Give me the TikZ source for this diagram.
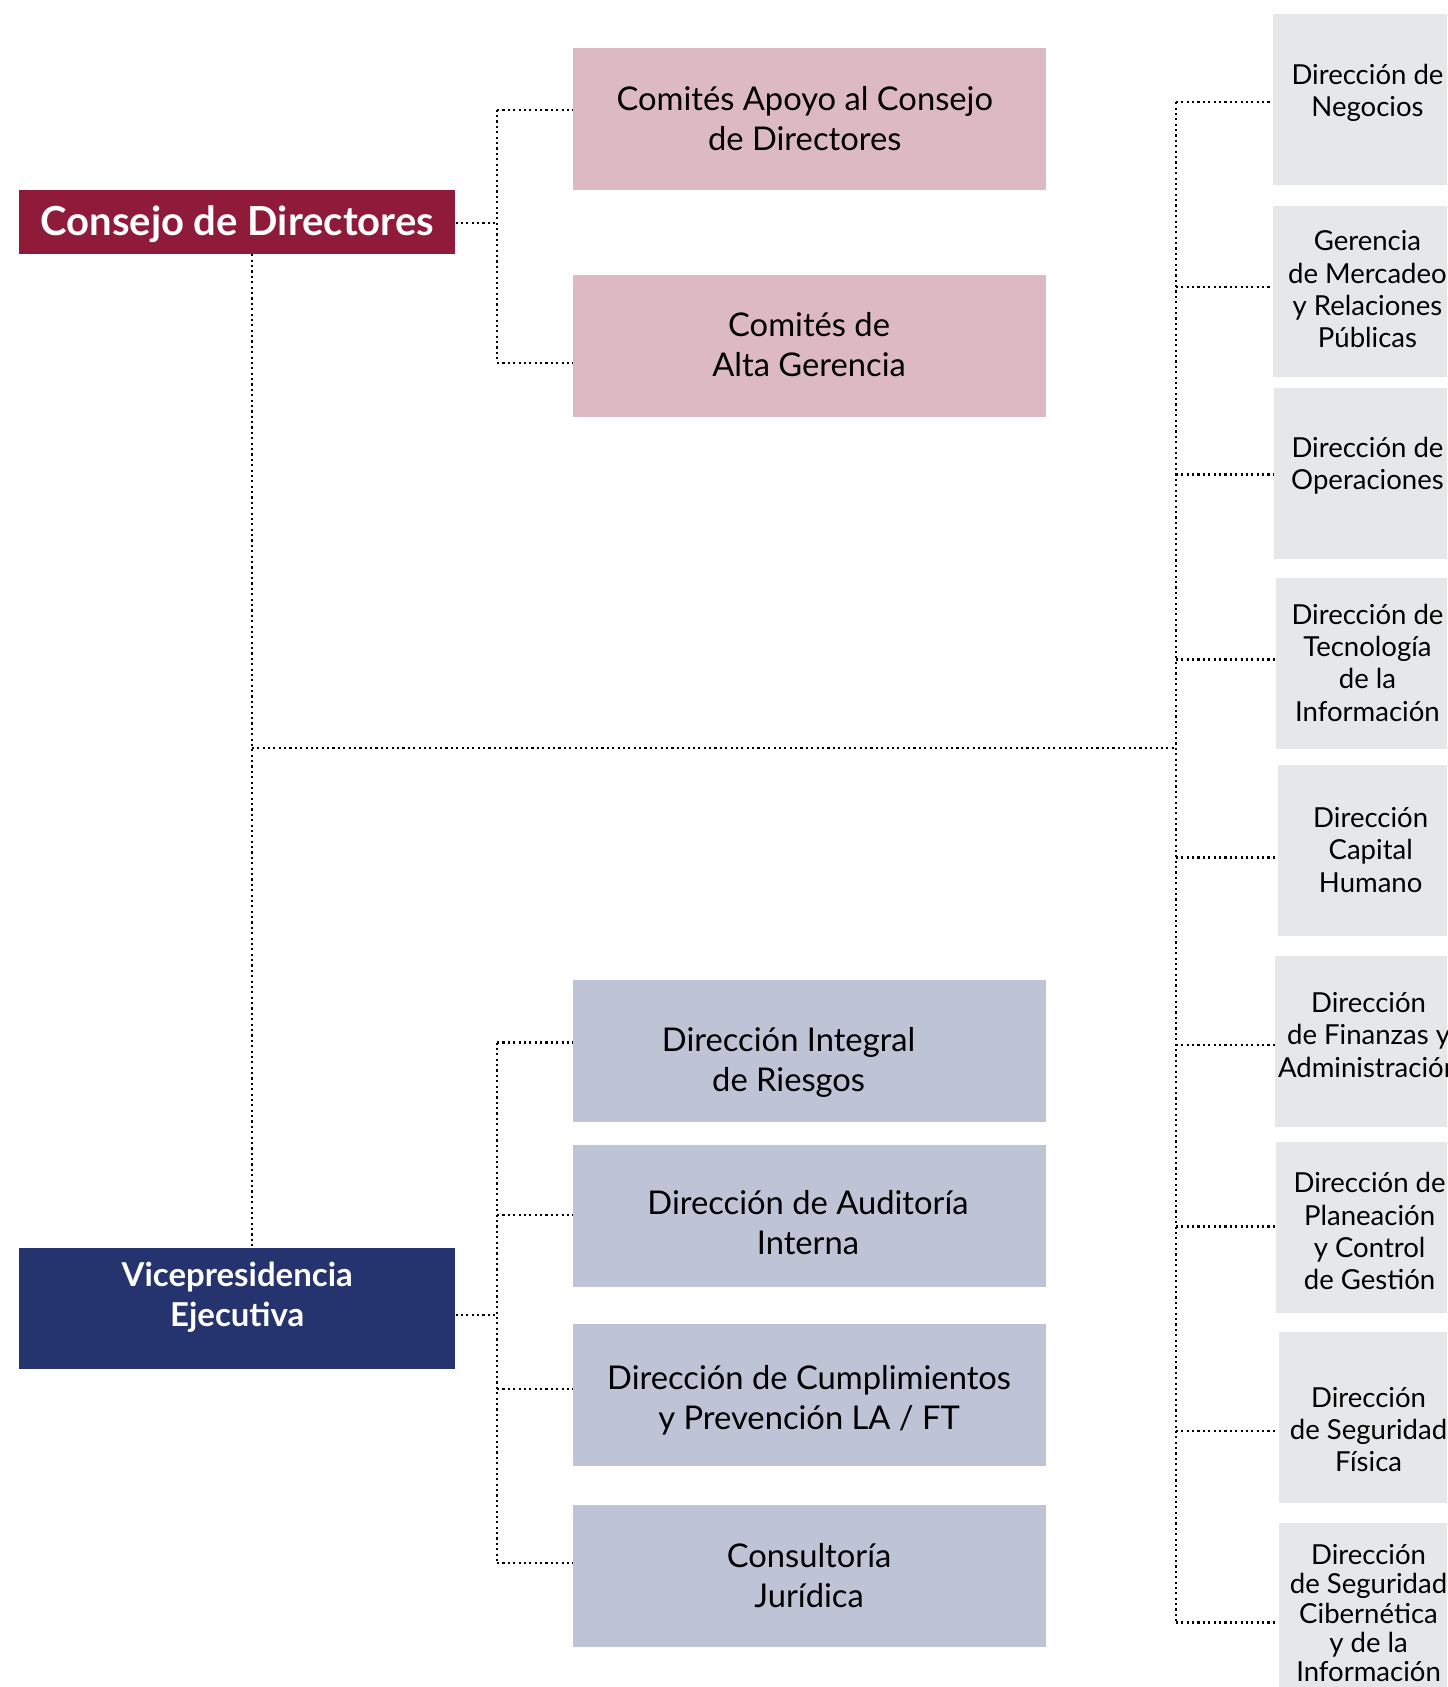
\documentclass[tikz,border=0pt]{standalone}
\usepackage{fontspec}
\setmainfont{Lato}
\definecolor{crimson}{HTML}{8F1A3A}
\definecolor{navy}{HTML}{25346E}
\definecolor{pinkbg}{HTML}{DDB9C3}
\definecolor{bluebg}{HTML}{BEC3D6}
\definecolor{graybg}{HTML}{E6E7E8}
\tikzset{
  dl/.style={draw=black, line width=1pt, dash pattern=on 1pt off 1.5pt},
  topbox/.style={fill=crimson, draw=none, minimum width=202.5pt, minimum height=29.5pt, inner sep=0pt},
  toptext/.style={text=white, font=\fontsize{18.6}{22}\selectfont\bfseries},
  vpbox/.style={fill=navy, draw=none, minimum width=202.5pt, minimum height=56pt, inner sep=0pt},
  vptext/.style={text=white, align=center, font=\fontsize{15.3}{18.5}\selectfont\bfseries},
  pinkboxst/.style={fill=pinkbg, draw=none, minimum width=219.5pt, minimum height=66pt, inner sep=0pt},
  blueboxst/.style={fill=bluebg, draw=none, minimum width=219.5pt, minimum height=66pt, inner sep=0pt},
  midtext/.style={align=center, font=\fontsize{15.2}{18.5}\selectfont, text=black},
  grayboxst/.style={fill=graybg, draw=none, anchor=north west, minimum width=90pt, minimum height=79.5pt, inner sep=0pt},
  graytext/.style={align=center, font=\fontsize{12.8}{15}\selectfont, text=black},
}
\begin{document}
\begin{tikzpicture}[x=0.5pt,y=-0.5pt]
\useasboundingbox (0,0) rectangle (1345,1568);
\clip (0,0) rectangle (1345,1568);
\fill[white] (0,0) rectangle (1345,1568);

% left column
\node[topbox] (cd) at (220.5,206.5) {};
\node[toptext] (cdt) at (220.5,208.5) {Consejo de Directores};
\node[vpbox] (vp) at (220.5,1216) {};
\node[vptext] (vpt) at (220.5,1205.5) {Vicepresidencia\\Ejecutiva};

% pink boxes
\node[pinkboxst] (p1) at (752.5,111) {};
\node[midtext] (p1t) at (748,110.5) {Comités Apoyo al Consejo\\de Directores};
\node[pinkboxst] (p2) at (752.5,321.5) {};
\node[midtext] (p2t) at (752,320.5) {Comités de\\Alta Gerencia};

% blue boxes
\node[blueboxst] (b1) at (752.5,976.5) {};
\node[midtext] (b1t) at (733,987.5) {Dirección Integral\\de Riesgos};
\node[blueboxst] (b2) at (752.5,1130.5) {};
\node[midtext] (b2t) at (751,1136.5) {Dirección de Auditoría\\Interna};
\node[blueboxst] (b3) at (752.5,1296.5) {};
\node[midtext] (b3t) at (752,1301.5) {Dirección de Cumplimientos\\y Prevención LA / FT};
\node[blueboxst] (b4) at (752.5,1464.5) {};
\node[midtext] (b4t) at (752,1464.5) {Consultoría\\Jurídica};

% gray boxes
\node[grayboxst] (g1) at (1183,13) {};
\node[graytext] (g1t) at (1271,86) {Dirección de\\Negocios};
\node[grayboxst] (g2) at (1183,191) {};
\node[graytext] (g2t) at (1271,269) {Gerencia\\de Mercadeo\\y Relaciones\\Públicas};
\node[grayboxst] (g3) at (1184,360) {};
\node[graytext] (g3t) at (1271,433) {Dirección de\\Operaciones};
\node[grayboxst] (g4) at (1186,537) {};
\node[graytext] (g4t) at (1271,616) {Dirección de\\Tecnología\\de la\\Información};
\node[grayboxst] (g5) at (1187,711) {};
\node[graytext] (g5t) at (1274,790) {Dirección\\Capital\\Humano};
\node[grayboxst] (g6) at (1185,888) {};
\node[graytext] (g6t) at (1272,962) {Dirección\\de Finanzas y\\Administración};
\node[grayboxst] (g7) at (1186,1061) {};
\node[graytext] (g7t) at (1273,1144.5) {Dirección de\\Planeación\\y Control\\de Gestión};
\node[grayboxst] (g8) at (1188,1238) {};
\node[graytext] (g8t) at (1272,1328.5) {Dirección\\de Seguridad\\Física};
\node[grayboxst] (g9) at (1188,1415) {};
\node[graytext, font=\fontsize{12.8}{13.6}\selectfont] (g9t) at (1272,1499.5) {Dirección\\de Seguridad\\Cibernética\\y de la\\Información};

% connectors
\coordinate (j1) at (462,207);
\coordinate (j2) at (462,1222);
\coordinate (bus) at (1093,695);

\draw[dl] (cd.east |- 0,207) -- (j1);
\draw[dl] (462,102) -- (462,337);
\draw[dl] (462,102) -- (p1.west |- 0,102);
\draw[dl] (462,337) -- (p2.west |- 0,337);

\draw[dl] (cd.south -| 234,0) -- (vp.north -| 234,0);
\draw[dl] (234,695) -- (bus);

\draw[dl] (vp.east |- 0,1222) -- (j2);
\draw[dl] (462,969) -- (462,1453);
\draw[dl] (462,969) -- (b1.west |- 0,969);
\draw[dl] (462,1129) -- (b2.west |- 0,1129);
\draw[dl] (462,1291) -- (b3.west |- 0,1291);
\draw[dl] (462,1453) -- (b4.west |- 0,1453);

\draw[dl] (1093,95) -- (1093,1508);
\draw[dl] (1093,95) -- (g1.west |- 0,95);
\draw[dl] (1093,267) -- (g2.west |- 0,267);
\draw[dl] (1093,441) -- (g3.west |- 0,441);
\draw[dl] (1093,613) -- (g4.west |- 0,613);
\draw[dl] (1093,797) -- (g5.west |- 0,797);
\draw[dl] (1093,971) -- (g6.west |- 0,971);
\draw[dl] (1093,1140) -- (g7.west |- 0,1140);
\draw[dl] (1093,1330) -- (g8.west |- 0,1330);
\draw[dl] (1093,1508) -- (g9.west |- 0,1508);
\end{tikzpicture}
\end{document}
